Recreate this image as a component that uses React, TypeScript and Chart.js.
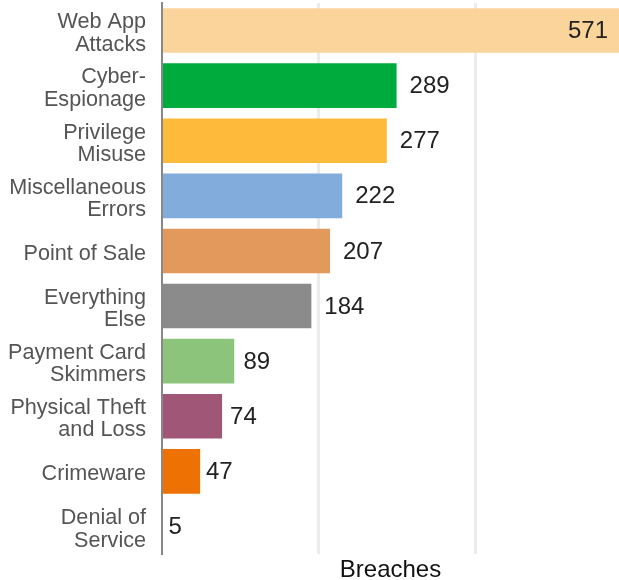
import React, { useEffect, useRef } from "react";
import { Chart, registerables } from "chart.js";

Chart.register(...registerables);

const categories: string[][] = [
  ["Web App", "Attacks"],
  ["Cyber-", "Espionage"],
  ["Privilege", "Misuse"],
  ["Miscellaneous", "Errors"],
  ["Point of Sale"],
  ["Everything", "Else"],
  ["Payment Card", "Skimmers"],
  ["Physical Theft", "and Loss"],
  ["Crimeware"],
  ["Denial of", "Service"],
];

const breaches: number[] = [571, 289, 277, 222, 207, 184, 89, 74, 47, 5];

const barColors: string[] = [
  "#fbd49b",
  "#00ab3e",
  "#febb3b",
  "#82acdc",
  "#e4995c",
  "#8b8b8b",
  "#8dc47b",
  "#a05677",
  "#ee7103",
  "#ffffff",
];

const axisTitle = "Breaches";
const xMax = 563;
const gridValues: number[] = [193, 386];

const FONT = "'Liberation Sans', Arial, Helvetica, sans-serif";

const valueLabels = {
  id: "valueLabels",
  afterDatasetsDraw(chart: any) {
    const { ctx, chartArea } = chart;
    const meta = chart.getDatasetMeta(0);
    const data = chart.data.datasets[0].data as number[];
    const maxVal = Math.max(...data);
    ctx.save();
    ctx.font = `24px ${FONT}`;
    ctx.fillStyle = "#222222";
    ctx.textBaseline = "middle";
    meta.data.forEach((bar: any, i: number) => {
      const v = data[i];
      const end = Math.min(bar.x, chartArea.right);
      if (v === maxVal) {
        ctx.textAlign = "right";
        ctx.fillText(String(v), end - 11, bar.y + 1);
      } else {
        const width = end - chartArea.left;
        const gap = Math.min(13, 2 + width * 0.1);
        ctx.textAlign = "left";
        ctx.fillText(String(v), end + gap, bar.y + 1);
      }
    });
    ctx.restore();
  },
};

export default function App() {
  const canvasRef = useRef<HTMLCanvasElement | null>(null);

  useEffect(() => {
    const canvas = canvasRef.current;
    if (!canvas) return;
    const chart = new Chart(canvas, {
      type: "bar",
      data: {
        labels: categories,
        datasets: [
          {
            data: breaches,
            backgroundColor: barColors,
            borderWidth: 0,
            barPercentage: 0.81,
            categoryPercentage: 1,
          },
        ],
      },
      options: {
        indexAxis: "y",
        responsive: false,
        animation: false,
        layout: { padding: { top: 3, right: 0, left: 0, bottom: 0 } },
        plugins: {
          legend: { display: false },
          tooltip: { enabled: false },
        },
        scales: {
          x: {
            min: 0,
            max: xMax,
            ticks: { display: false },
            afterBuildTicks(scale: any) {
              scale.ticks = gridValues.map((v) => ({ value: v }));
            },
            grid: {
              color: "#ebebeb",
              lineWidth: 3,
              drawTicks: false,
            },
            border: { display: false },
            title: {
              display: true,
              text: axisTitle,
              color: "#111111",
              font: { family: FONT, size: 24, lineHeight: 1 },
              padding: { top: 0, bottom: -2 },
            },
            afterFit(scale: any) {
              scale.height = 26;
              scale.paddingLeft = 0;
              scale.paddingRight = 0;
            },
          },
          y: {
            grid: { display: false, drawTicks: false },
            border: { display: true, color: "#888888", width: 2, z: 1 },
            ticks: {
              color: "#555555",
              padding: 16,
              labelOffset: 3,
              font: { family: FONT, size: 21.6, lineHeight: 1.03 },
            },
            afterFit(scale: any) {
              scale.width = 162;
              scale.paddingTop = 0;
              scale.paddingBottom = 0;
            },
          },
        },
      },
      plugins: [valueLabels],
    });
    return () => chart.destroy();
  }, []);

  return (
    <div style={{ position: "fixed", left: 0, top: 0, width: 619, height: 580, background: "#ffffff" }}>
      <canvas ref={canvasRef} width={619} height={580} style={{ display: "block", width: 619, height: 580 }} />
    </div>
  );
}
